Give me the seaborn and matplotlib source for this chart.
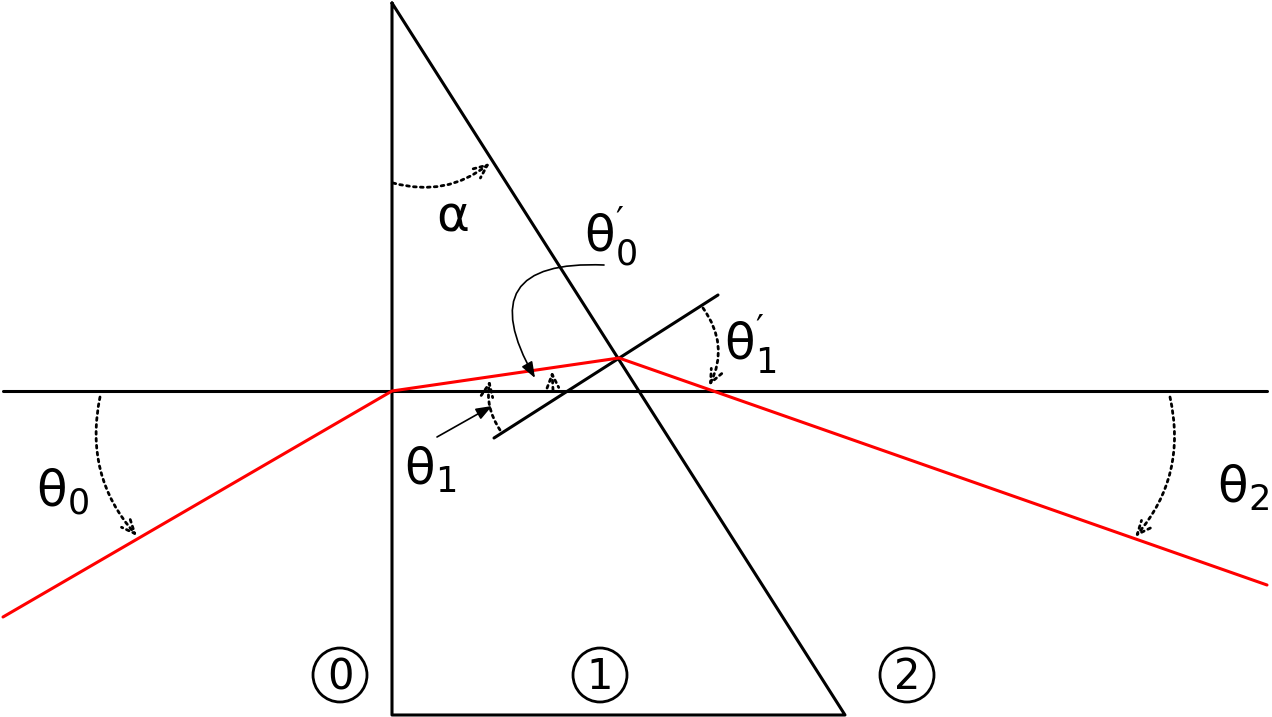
import matplotlib
matplotlib.use("Agg")
import matplotlib.pyplot as plt
import seaborn as sns
from matplotlib.patches import Circle

sns.set_theme(style="white")
plt.rcParams['font.family'] = ['DejaVu Sans']
plt.rcParams['mathtext.fontset'] = 'dejavusans'
plt.rcParams['mathtext.default'] = 'regular'
plt.rcParams['text.color'] = 'black'

# geometry (pixel space, y downwards)
prism_x = [392, 392, 845, 392]
prism_y = [3, 715, 715, 3]
axis_x = [3, 1267]
axis_y = [391, 391]
ray_x = [3, 392, 619, 709, 1267]
ray_y = [617, 391, 358, 389.5, 585]
normal_x = [494, 718]
normal_y = [438, 295]

fig = plt.figure(figsize=(12.72, 7.17), dpi=100)
ax = fig.add_axes([0, 0, 1, 1])
ax.set_xlim(0, 1272); ax.set_ylim(717, 0); ax.axis("off")

def seg(x, y, color, lw):
    sns.lineplot(x=x, y=y, sort=False, estimator=None, color=color, lw=lw, ax=ax)

seg(prism_x, prism_y, "black", 2.2)
seg(axis_x, axis_y, "black", 2.2)
seg(normal_x, normal_y, "black", 2.2)
seg(ray_x, ray_y, "red", 2.2)

def dotarc(p0, p1, rad):
    ax.annotate("", xy=p1, xytext=p0,
                arrowprops=dict(arrowstyle="->,head_length=0.8,head_width=0.35", ls=(0, (1, 1.5)), lw=2,
                                color="black", connectionstyle=f"arc3,rad={rad}", shrinkA=0, shrinkB=0))

dotarc((393, 183), (490, 163), 0.25)
dotarc((100, 397), (137, 536), 0.25)
dotarc((703, 308), (709, 386), -0.3)
dotarc((1170, 397), (1135, 537), -0.25)
dotarc((500, 430), (490, 380), -0.2)
dotarc((553, 390), (552, 371), 0)

ax.annotate("", xy=(535, 378), xytext=(604, 265),
            arrowprops=dict(arrowstyle="-|>,head_length=0.8,head_width=0.3", lw=1.2, color="black",
                            connectionstyle="arc3,rad=0.9", shrinkA=0, shrinkB=0))
ax.annotate("", xy=(492, 406), xytext=(437, 437),
            arrowprops=dict(arrowstyle="-|>,head_length=0.8,head_width=0.3", lw=1.2, color="black",
                            shrinkA=0, shrinkB=0))

fs = 36
ax.text(453, 218, "α", fontsize=fs, ha="center", va="center")
ax.text(610, 237, r"$\theta_0^{\prime}$", fontsize=fs, ha="center", va="center")
ax.text(750, 345, r"$\theta_1^{\prime}$", fontsize=fs, ha="center", va="center")
ax.text(62, 492, r"$\theta_0$", fontsize=fs, ha="center", va="center")
ax.text(430, 470, r"$\theta_1$", fontsize=fs, ha="center", va="center")
ax.text(1243, 488, r"$\theta_2$", fontsize=fs, ha="center", va="center")

for (cx, lab) in [(340, "0"), (600, "1"), (907, "2")]:
    ax.add_patch(Circle((cx, 675), 27, fill=False, lw=2, color="black"))
    ax.text(cx, 677, lab, fontsize=30, ha="center", va="center")

fig.savefig("out.png", dpi=100, facecolor="white")
